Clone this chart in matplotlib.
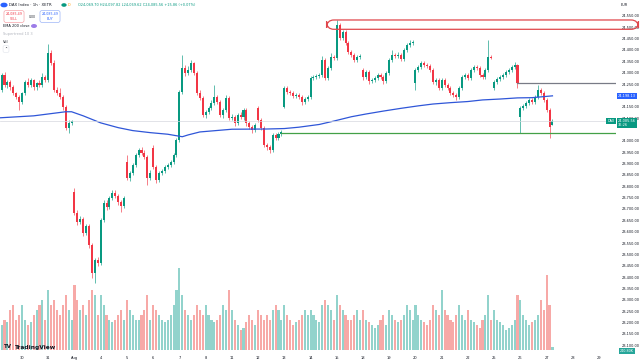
import matplotlib
matplotlib.use("Agg")
import matplotlib.pyplot as plt
from matplotlib.patches import FancyBboxPatch

###########################################
# DATA  (XETR:DAX, 1h bars, 29 Jul - 27 Aug, 9 bars per session)
###########################################
opens = [
    24189, 24224, 24290, 24246, 24259, 24237, 24211, 24193,                # Jul 29
    24171, 24211, 24259, 24246, 24268, 24237, 24255, 24246, 24281,         # Jul 30
    24268, 24387, 24343, 24224, 24211, 24193, 24149, 24057, 24079,         # Jul 31
    23775, 23682, 23643, 23656, 23594, 23625, 23541, 23418, 23475,         # Aug 1
    23462, 23651, 23726, 23709, 23748, 23770, 23757, 23731, 23713,         # Aug 4
    23907, 23836, 23858, 23894, 23938, 23960, 23947, 23929, 23836,         # Aug 5
    23969, 23885, 23828, 23858, 23867, 23885, 23894, 23907, 23938,         # Aug 6
    24004, 24215, 24321, 24299, 24312, 24343, 24299, 24211, 24189,         # Aug 7
    24114, 24127, 24145, 24167, 24193, 24171, 24114, 24136, 24189,         # Aug 8
    24101, 24105, 24079, 24114, 24105, 24136, 24079, 24061, 24048,         # Aug 11
    24145, 24092, 24057, 23982, 23973, 23960, 24026, 24013, 24030,         # Aug 12
    24149, 24233, 24215, 24211, 24198, 24202, 24193, 24171, 24184,         # Aug 13
    24193, 24277, 24281, 24286, 24290, 24356, 24277, 24321, 24369,         # Aug 14
    24365, 24510, 24453, 24480, 24431, 24391, 24378, 24356, 24369,         # Aug 15
    24312, 24281, 24303, 24264, 24268, 24277, 24290, 24281, 24264,         # Aug 18
    24299, 24356, 24378, 24374, 24378, 24361, 24400, 24422, 24431,         # Aug 19
    24255, 24312, 24325, 24343, 24334, 24330, 24312, 24259, 24268,         # Aug 20
    24233, 24268, 24246, 24233, 24211, 24202, 24193, 24233, 24281,         # Aug 21
    24290, 24277, 24312, 24325, 24321, 24290, 24281, 24312, 24369,         # Aug 22
    24233, 24259, 24272, 24281, 24290, 24303, 24312, 24325, 24334,         # Aug 25
    24105, 24145, 24154, 24167, 24180, 24171, 24193, 24224, 24211,         # Aug 26
    24180, 24136, 24070,                                                   # Aug 27
]
highs = [
    24233, 24299, 24303, 24268, 24268, 24246, 24215, 24202,
    24215, 24268, 24277, 24277, 24272, 24259, 24268, 24299, 24290,
    24427, 24400, 24356, 24237, 24233, 24202, 24158, 24092, 24092,
    23792, 23695, 23669, 23665, 23634, 23634, 23550, 23484, 23488,
    23660, 23740, 23740, 23757, 23784, 23784, 23766, 23740, 23757,
    23938, 23867, 23903, 23947, 23969, 23973, 23960, 23938, 23872,
    23982, 23894, 23867, 23876, 23894, 23903, 23916, 23947, 24013,
    24224, 24378, 24334, 24330, 24356, 24347, 24308, 24224, 24198,
    24136, 24154, 24180, 24246, 24202, 24180, 24145, 24202, 24198,
    24118, 24114, 24123, 24127, 24145, 24145, 24087, 24070, 24079,
    24154, 24101, 24065, 23991, 23982, 24035, 24035, 24039, 24048,
    24242, 24242, 24224, 24220, 24211, 24211, 24202, 24193, 24202,
    24286, 24290, 24295, 24299, 24374, 24365, 24330, 24387, 24378,
    24532, 24519, 24488, 24488, 24440, 24400, 24387, 24378, 24383,
    24321, 24312, 24312, 24277, 24286, 24299, 24299, 24290, 24308,
    24365, 24400, 24387, 24391, 24387, 24409, 24431, 24444, 24444,
    24321, 24334, 24352, 24352, 24343, 24339, 24321, 24277, 24277,
    24277, 24277, 24255, 24242, 24220, 24211, 24242, 24290, 24299,
    24299, 24321, 24334, 24334, 24330, 24299, 24321, 24444, 24378,
    24268, 24281, 24290, 24299, 24312, 24321, 24334, 24347, 24339,
    24154, 24162, 24176, 24189, 24189, 24202, 24246, 24233, 24220,
    24189, 24145, 24098,
]
lows = [
    24180, 24215, 24237, 24233, 24224, 24202, 24184, 24136,
    24162, 24202, 24237, 24237, 24224, 24224, 24237, 24237, 24259,
    24259, 24334, 24215, 24202, 24184, 24136, 24048, 24035, 24070,
    23673, 23629, 23634, 23581, 23585, 23528, 23396, 23374, 23449,
    23453, 23643, 23695, 23700, 23740, 23748, 23718, 23687, 23704,
    23828, 23823, 23850, 23885, 23929, 23938, 23920, 23806, 23828,
    23876, 23814, 23819, 23850, 23858, 23876, 23885, 23898, 23929,
    23995, 24206, 24286, 24290, 24303, 24290, 24202, 24180, 24105,
    24101, 24118, 24136, 24158, 24162, 24105, 24101, 24127, 24092,
    24092, 24065, 24070, 24096, 24092, 24065, 24052, 24035, 24039,
    24083, 24048, 23973, 23960, 23947, 23951, 24004, 24004, 24021,
    24145, 24206, 24202, 24189, 24189, 24184, 24158, 24162, 24176,
    24184, 24268, 24272, 24277, 24281, 24268, 24268, 24312, 24356,
    24356, 24444, 24444, 24422, 24383, 24369, 24347, 24347, 24361,
    24268, 24272, 24250, 24255, 24259, 24268, 24272, 24250, 24255,
    24290, 24347, 24365, 24365, 24352, 24352, 24391, 24413, 24422,
    24224, 24303, 24317, 24325, 24321, 24303, 24250, 24246, 24224,
    24224, 24237, 24224, 24202, 24193, 24180, 24184, 24224, 24272,
    24268, 24268, 24303, 24312, 24281, 24272, 24272, 24303, 24361,
    24224, 24250, 24264, 24272, 24281, 24295, 24303, 24317, 24233,
    24035, 24136, 24145, 24158, 24162, 24162, 24184, 24202, 24171,
    24127, 24013, 24070,
]
closes = [
    24224, 24290, 24246, 24259, 24237, 24211, 24193, 24171,
    24211, 24259, 24246, 24268, 24237, 24255, 24246, 24281, 24268,
    24387, 24343, 24224, 24211, 24193, 24149, 24057, 24079, 24087,
    23682, 23643, 23656, 23594, 23625, 23541, 23418, 23475, 23462,
    23651, 23726, 23709, 23748, 23770, 23757, 23731, 23713, 23748,
    23836, 23858, 23894, 23938, 23960, 23947, 23929, 23836, 23858,
    23885, 23828, 23858, 23867, 23885, 23894, 23907, 23938, 24004,
    24215, 24321, 24299, 24312, 24343, 24299, 24211, 24189, 24114,
    24127, 24145, 24167, 24193, 24171, 24114, 24136, 24189, 24101,
    24105, 24079, 24114, 24105, 24136, 24079, 24061, 24048, 24070,
    24092, 24057, 23982, 23973, 23960, 24026, 24013, 24030, 24039,
    24233, 24215, 24211, 24198, 24202, 24193, 24171, 24184, 24193,
    24277, 24281, 24286, 24290, 24356, 24277, 24321, 24369, 24365,
    24510, 24453, 24480, 24431, 24391, 24378, 24356, 24369, 24374,
    24281, 24303, 24264, 24268, 24277, 24290, 24281, 24264, 24299,
    24356, 24378, 24374, 24378, 24361, 24400, 24422, 24431, 24435,
    24312, 24325, 24343, 24334, 24330, 24312, 24259, 24268, 24233,
    24268, 24246, 24233, 24211, 24202, 24193, 24233, 24281, 24290,
    24277, 24312, 24325, 24321, 24290, 24281, 24312, 24369, 24365,
    24259, 24272, 24281, 24290, 24303, 24312, 24325, 24334, 24255,
    24145, 24154, 24167, 24180, 24171, 24193, 24224, 24211, 24180,
    24136, 24061, 24086,
]
# volume, thousands
volumes = [
    2800, 2000, 2400, 2240, 3200, 3600, 2400, 2800,
    3600, 2400, 2000, 2240, 2800, 3200, 3600, 4000, 2400,
    4800, 3600, 4000, 3200, 2800, 3600, 4400, 3200, 2400,
    5200, 4000, 3200, 3600, 2800, 4000, 4800, 4400, 2800,
    4400, 3600, 2800, 2400, 2240, 2400, 2800, 3200, 2400,
    4000, 3200, 2800, 2400, 2400, 2800, 3200, 4400, 2400,
    3600, 3200, 2800, 2400, 2240, 2400, 2800, 3600, 4800,
    6560, 4400, 3200, 2800, 2400, 2800, 3600, 3200, 2800,
    3600, 2800, 2400, 2240, 2400, 2800, 3600, 3200, 4800,
    3200, 2400, 2000, 1600, 1760, 2240, 2800, 2400, 2000,
    3200, 2800, 2400, 2800, 2400, 3200, 3600, 3200, 2400,
    3600, 2800, 2400, 2000, 2240, 2400, 2800, 3200, 2800,
    3200, 2800, 2400, 2240, 3600, 4000, 3600, 3200, 2400,
    4400, 3600, 3200, 2800, 2400, 2400, 2800, 3200, 2400,
    3200, 2400, 2240, 2000, 1760, 2000, 2400, 2800, 2000,
    3200, 2800, 2400, 2240, 2400, 2800, 3600, 3200, 2400,
    3600, 2800, 2400, 2240, 2000, 2400, 3600, 3200, 2800,
    4800, 3200, 2800, 2400, 2240, 2800, 3600, 2800, 2400,
    3200, 2400, 2240, 2000, 1760, 2400, 2800, 4400, 2400,
    3200, 2400, 2240, 2000, 1600, 1760, 2000, 2400, 4400,
    4000, 2800, 2400, 2000, 2240, 2400, 2800, 4000, 3200,
    6000, 3600, 241,
]

# EMA 200 at these bars
ema_bar = [0, 12, 23, 25, 29, 35, 41, 46, 52, 58, 63, 65, 69, 80, 92, 98, 103, 110,
           115, 121, 126, 132, 138, 144, 149, 155, 161, 166, 172, 178, 183, 190]
ema_val = [24101, 24110, 24128, 24128, 24110, 24079, 24058, 24045, 24036, 24029,
           24018, 24026, 24039, 24051, 24052, 24054, 24060, 24072, 24087, 24106,
           24118, 24131, 24143, 24154, 24162, 24168, 24173, 24180, 24184, 24189,
           24190, 24198]

day_labels = ["30", "31", "Aug", "4", "5", "6", "7", "8", "11", "12", "13", "14", "15",
              "18", "19", "20", "21", "22", "25", "26", "27", "28", "29"]
day_first_bar = [8, 17, 26, 35, 44, 53, 62, 71, 80, 89, 98, 107, 116, 125, 134, 143,
                 152, 161, 170, 179, 188, 197, 206]
# price scale labels (24,200 and 24,050 sit under the tags)
price_ticks = [p for p in range(23100, 24551, 50) if p not in (24200, 24050)]

support = 24035          # green line
support_from = 97
resist = 24255           # grey line
resist_from = 178
zone_lo, zone_hi = 24491, 24532   # red box
zone_from = 112.5
last_price = 24085.56
ema_last = 24198.13

###########################################
# PLOT
###########################################
GREEN = "#089981"
RED = "#f23645"
VGREEN = "#92d3cc"
VRED = "#f7a9a7"
TXT = "#131722"

fig = plt.figure(figsize=(6.4, 3.64), dpi=100)
ax = fig.add_axes([0, 14 / 364, 616 / 640, 350 / 364])
axv = ax.twinx()
ax.set_zorder(axv.get_zorder() + 1)
ax.patch.set_visible(False)

n = len(closes)
idx = list(range(n))
up = [c >= o for o, c in zip(opens, closes)]

# volume
axv.bar(idx, volumes, width=0.72, color=[VGREEN if u else VRED for u in up], linewidth=0)
axv.set_ylim(0, 28000)
axv.set_yticks([])

# candles
cols = [GREEN if u else RED for u in up]
ax.vlines(idx, lows, highs, colors=cols, linewidth=0.45)
bottoms = [min(o, c) for o, c in zip(opens, closes)]
heights = [max(abs(c - o), 1.5) for o, c in zip(opens, closes)]
ax.bar(idx, heights, bottom=bottoms, width=0.7, color=cols, linewidth=0)

# EMA
ax.plot(ema_bar, ema_val, color="#2f56d8", lw=0.9)

xmax = 211.8
# last price line
ax.axhline(last_price, color="#d6d8de", lw=0.5)
# support / resistance
ax.plot([support_from, xmax], [support, support], color="#43a047", lw=0.9)
ax.plot([resist_from, xmax], [resist, resist], color="#787b86", lw=0.9)
# red zone
zone = FancyBboxPatch((zone_from, zone_lo), 219.5 - zone_from, zone_hi - zone_lo,
                      boxstyle="round,pad=0,rounding_size=2.5", mutation_aspect=14,
                      fill=False, edgecolor="#e0474c", lw=0.9, clip_on=False, zorder=5)
ax.add_patch(zone)

ax.set_xlim(0.45, xmax)
ax.set_ylim(23079, 24620)
for s in ax.spines.values():
    s.set_visible(False)
for s in axv.spines.values():
    s.set_visible(False)

ax.yaxis.tick_right()
ax.set_yticks(price_ticks)
ax.set_yticklabels(["{:,.2f}".format(p) for p in price_ticks])
ax.tick_params(axis="y", length=0, pad=4, labelsize=2.5, labelcolor=TXT)
ax.set_xticks(day_first_bar)
ax.set_xticklabels(day_labels)
ax.tick_params(axis="x", length=0, pad=4, labelsize=2.6, labelcolor=TXT)

# price scale tags
ax.annotate("24,198.13", xy=(1.0, ema_last), xycoords=("axes fraction", "data"),
            xytext=(1.5, 0), textcoords="offset points", ha="left", va="center",
            fontsize=2.5, color="white",
            bbox=dict(boxstyle="square,pad=0.25", fc="#2962ff", ec="none"))
ax.annotate("24,085.56\n36:26", xy=(1.0, last_price - 8), xycoords=("axes fraction", "data"),
            xytext=(1.5, 0), textcoords="offset points", ha="left", va="center",
            fontsize=2.5, color="white", linespacing=1.1,
            bbox=dict(boxstyle="square,pad=0.3", fc=GREEN, ec="none"))
ax.annotate("DAX", xy=(1.0, last_price), xycoords=("axes fraction", "data"),
            xytext=(-1, 0), textcoords="offset points", ha="right", va="center",
            fontsize=2.4, color="white",
            bbox=dict(boxstyle="square,pad=0.3", fc=GREEN, ec="none"))
fig.text(627 / 640, 1 - 351 / 364, "240.80K", fontsize=2.4, color="white", ha="center",
         va="center", bbox=dict(boxstyle="square,pad=0.3", fc="#26a69a", ec="none"))
fig.text(621 / 640, 1 - 5 / 364, "EUR", fontsize=2.5, color=TXT, va="center")

# header
fig.patches.append(plt.Circle((4 / 640, 1 - 5 / 364), 0.0045, color="#2962ff",
                              transform=fig.transFigure, figure=fig))
fig.text(9 / 640, 1 - 5 / 364, "DAX Index · 1h · XETR", fontsize=2.8, color=TXT, va="center")
fig.patches.append(plt.Circle((64 / 640, 1 - 5 / 364), 0.003, color="#089981",
                              transform=fig.transFigure, figure=fig))
fig.text(69 / 640, 1 - 5 / 364, "D", fontsize=2.4, color="#ff9800", ha="center", va="center")
fig.text(78 / 640, 1 - 5 / 364, "O24,069.70 H24,097.82 L24,069.62 C24,085.56 +15.86 (+0.07%)",
         fontsize=2.5, color=GREEN, va="center")
fig.text(14 / 640, 1 - 16.5 / 364, "24,085.49\nSELL", fontsize=2.3, color=RED, ha="center",
         va="center", linespacing=1.2,
         bbox=dict(boxstyle="round,pad=0.5,rounding_size=0.6", fc="white", ec="#f5a3a8", lw=0.5))
fig.text(32 / 640, 1 - 16.5 / 364, "0.00", fontsize=2.2, color=TXT, ha="center", va="center")
fig.text(50 / 640, 1 - 16.5 / 364, "24,085.49\nBUY", fontsize=2.3, color="#2962ff", ha="center",
         va="center", linespacing=1.2,
         bbox=dict(boxstyle="round,pad=0.5,rounding_size=0.6", fc="white", ec="#9db5f7", lw=0.5))
fig.text(3 / 640, 1 - 26 / 364, "EMA 200 close", fontsize=2.6, color=TXT, va="center")
fig.patches.append(plt.Circle((34 / 640, 1 - 26 / 364), 0.0035, color="#9c7ce8",
                              transform=fig.transFigure, figure=fig))
fig.text(3 / 640, 1 - 34 / 364, "Supertrend 10 3", fontsize=2.6, color="#b2b5be", va="center")
fig.text(3 / 640, 1 - 42 / 364, "Vol", fontsize=2.6, color=TXT, va="center")
fig.text(6 / 640, 1 - 49 / 364, "⌃", fontsize=2.6, color=TXT, ha="center", va="center",
         bbox=dict(boxstyle="round,pad=0.4,rounding_size=0.4", fc="white", ec="#e0e3eb", lw=0.4))

# logo
fig.text(4 / 640, 1 - 347 / 364, "TV", fontsize=4, fontweight="bold", color=TXT, va="center")
fig.text(15 / 640, 1 - 347 / 364, "TradingView", fontsize=4.2, fontweight="bold",
         color=TXT, va="center")

fig.savefig("out.png", dpi=100)
